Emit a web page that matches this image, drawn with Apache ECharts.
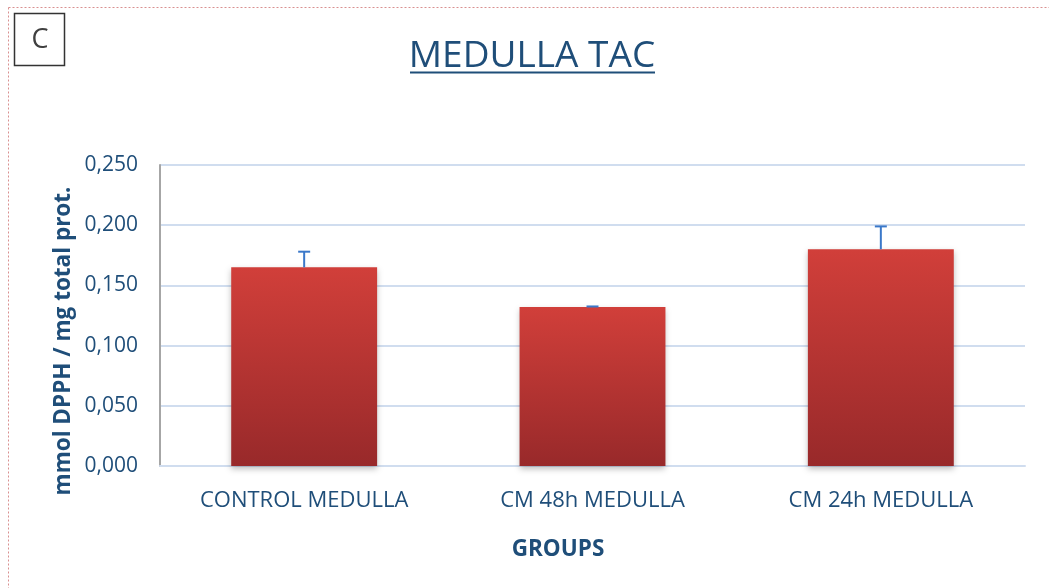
<!DOCTYPE html>
<html>
<head>
<meta charset="utf-8">
<script src="https://cdn.jsdelivr.net/npm/echarts@6/dist/echarts.min.js"></script>
<style>
html,body{margin:0;padding:0;background:#fff;}
#c{width:1049px;height:588px;}
</style>
</head>
<body>
<div id="c"></div>
<script>
const categories = ['CONTROL MEDULLA', 'CM 48h MEDULLA', 'CM 24h MEDULLA'];
const values = [0.165, 0.132, 0.180];
const errors = [0.013, 0.0005, 0.019];
const yTicks = [0, 0.05, 0.1, 0.15, 0.2, 0.25];

const FONT = 'Open Sans';
const TXT = '#1F4E79';

const chart = echarts.init(document.getElementById('c'));
const errData = values.map((v, i) => [i, v, v + errors[i]]);

chart.setOption({
  animation: false,
  grid: { left: 160, right: 24, top: 165, bottom: 122, containLabel: false },
  xAxis: {
    type: 'category',
    data: categories,
    axisLine: { show: true, lineStyle: { color: '#D0DDEF', width: 2 } },
    axisTick: { show: false },
    axisLabel: { color: TXT, fontFamily: FONT, fontSize: 22, margin: 24 }
  },
  yAxis: {
    type: 'value',
    min: 0, max: 0.25, interval: 0.05,
    axisLine: { show: true, lineStyle: { color: '#A6A6A6', width: 2 } },
    axisTick: { show: false },
    splitLine: { lineStyle: { color: '#D0DDEF', width: 2 } },
    axisLabel: {
      color: TXT, fontFamily: FONT, fontSize: 21, margin: 22,
      formatter: v => v.toFixed(3).replace('.', ',')
    }
  },
  series: [
    {
      type: 'bar',
      data: values,
      barWidth: '50.6%',
      itemStyle: {
        color: new echarts.graphic.LinearGradient(0, 0, 0, 1, [
          { offset: 0, color: '#D13F3A' },
          { offset: 1, color: '#98292A' }
        ]),
        shadowColor: 'rgba(0,0,0,0.25)',
        shadowBlur: 6,
        shadowOffsetY: 3
      },
      z: 2
    },
    {
      type: 'custom',
      data: errData,
      z: 3,
      renderItem: function (params, api) {
        const x = api.coord([api.value(0), api.value(1)])[0];
        const yLow = api.coord([api.value(0), api.value(1)])[1];
        const yHigh = api.coord([api.value(0), api.value(2)])[1];
        const half = 6;
        return {
          type: 'group',
          children: [
            { type: 'line', shape: { x1: x, y1: yLow, x2: x, y2: yHigh }, style: { stroke: '#3A78C9', lineWidth: 2 } },
            { type: 'line', shape: { x1: x - half, y1: yHigh, x2: x + half, y2: yHigh }, style: { stroke: '#3A78C9', lineWidth: 2 } }
          ]
        };
      }
    }
  ],
  graphic: [
    { type: 'line', shape: { x1: 8.5, y1: 7.5, x2: 1049, y2: 7.5 }, style: { stroke: '#D99090', lineWidth: 1, lineDash: [2, 2] } },
    { type: 'line', shape: { x1: 8.5, y1: 7.5, x2: 8.5, y2: 588 }, style: { stroke: '#D99090', lineWidth: 1, lineDash: [2, 2] } },
    { type: 'rect', shape: { x: 14.5, y: 13.5, width: 50, height: 52 }, style: { fill: '#fff', stroke: '#333', lineWidth: 1.5 } },
    { type: 'text', x: 40, y: 40, style: { text: 'C', fill: '#404040', font: '27px "Open Sans"', align: 'center', verticalAlign: 'middle' } },
    { type: 'text', x: 532, y: 56, style: { text: 'MEDULLA TAC', fill: TXT, font: '37px "Open Sans"', align: 'center', verticalAlign: 'middle' } },
    { type: 'line', shape: { x1: 410, y1: 72.5, x2: 655, y2: 72.5 }, style: { stroke: TXT, lineWidth: 2 } },
    { type: 'text', x: 558, y: 550, style: { text: 'GROUPS', fill: TXT, font: 'bold 22.5px "Open Sans"', align: 'center', verticalAlign: 'middle' } },
    { type: 'text', x: 64, y: 341, rotation: Math.PI / 2, style: { text: 'mmol DPPH / mg total prot.', fill: TXT, font: 'bold 22.5px "Open Sans"', align: 'center', verticalAlign: 'middle' } }
  ]
});
</script>
</body>
</html>
